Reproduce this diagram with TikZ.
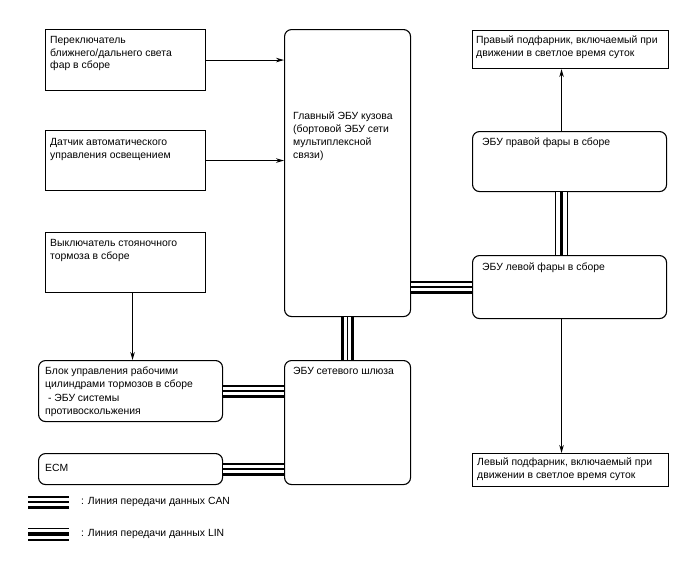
\documentclass[tikz,border=0pt]{standalone}
\usepackage{fontspec}
\setmainfont{Liberation Sans}
\usetikzlibrary{arrows.meta, calc}

\begin{document}
\begin{tikzpicture}[x=1pt, y=-1pt, >={Stealth[length=8pt, width=4.5pt]},
  font=\fontsize{10.4}{12.8}\selectfont,
  box/.style={draw, line width=1.1pt, anchor=north west, inner sep=0pt},
  rbox/.style={box, rounded corners=7pt},
  txt/.style={anchor=north west, align=left, inner sep=0pt},
  sig/.style={->, line width=1pt},
  can/.style={line width=13pt, postaction={draw=white, line width=7.6pt},
    postaction={draw=black, line width=1.4pt}},
  lin/.style={line width=13pt, postaction={draw=white, line width=10.2pt},
    postaction={draw=black, line width=3.8pt}}]
  \useasboundingbox (0,0) rectangle (688,560);

  % left column
  \node[box, minimum width=160pt, minimum height=61pt] (beam) at (45,29) {};
  \node[box, minimum width=160pt, minimum height=60pt] (light) at (45,130) {};
  \node[box, minimum width=160pt, minimum height=60pt] (park) at (45,232) {};
  \node[rbox, minimum width=184pt, minimum height=61pt] (brake) at (38,360) {};
  \node[rbox, minimum width=184pt, minimum height=31pt] (ecm) at (38,453) {};

  % middle column
  \node[rbox, minimum width=126pt, minimum height=287pt] (body) at (284,29) {};
  \node[rbox, minimum width=126pt, minimum height=124pt] (gate) at (284,360) {};

  % right column
  \node[box, minimum width=196pt, minimum height=38pt] (drlR) at (472,30) {};
  \node[rbox, minimum width=194pt, minimum height=60pt] (headR) at (472,131) {};
  \node[rbox, minimum width=194pt, minimum height=63pt] (headL) at (472,255) {};
  \node[box, minimum width=196pt, minimum height=33pt] (drlL) at (472,453) {};

  % texts
  \node[txt] (beamT) at ([shift={(5pt,-7pt)}]beam.north west)
    {Переключатель\\ближнего/дальнего света\\фар в сборе};
  \node[txt] (lightT) at ([shift={(5pt,-8pt)}]light.north west)
    {Датчик автоматического\\управления освещением};
  \node[txt] (parkT) at ([shift={(5pt,-7pt)}]park.north west)
    {Выключатель стояночного\\тормоза в сборе};
  \node[txt] (brakeT) at ([shift={(7pt,-7pt)}]brake.north west)
    {Блок управления рабочими\\цилиндрами тормозов в сборе\\[1pt]\ - ЭБУ системы\\противоскольжения};
  \node[txt] (ecmT) at ([shift={(7pt,-11pt)}]ecm.north west) {ECM};
  \node[txt] (bodyT) at ([shift={(9pt,-83pt)}]body.north west)
    {Главный ЭБУ кузова\\(бортовой ЭБУ сети\\мультиплексной\\связи)};
  \node[txt] (gateT) at ([shift={(9pt,-7pt)}]gate.north west) {ЭБУ сетевого шлюза};
  \node[txt] (drlRT) at ([shift={(4pt,-6pt)}]drlR.north west)
    {Правый подфарник, включаемый при\\движении в светлое время суток};
  \node[txt] (headRT) at ([shift={(10pt,-7pt)}]headR.north west) {ЭБУ правой фары в сборе};
  \node[txt] (headLT) at ([shift={(10pt,-8pt)}]headL.north west) {ЭБУ левой фары в сборе};
  \node[txt] (drlLT) at ([shift={(5pt,-5pt)}]drlL.north west)
    {Левый подфарник, включаемый при\\движении в светлое время суток};

  % signal lines
  \draw[sig] (beam.east) -- (beam.east -| body.west);
  \draw[sig] (light.east) -- (light.east -| body.west);
  \draw[sig] ([xshift=7pt]park.south) -- ([xshift=7pt]park.south |- brake.north);
  \draw[sig] ([xshift=-8pt]headR.north) -- ([xshift=-8pt]headR.north |- drlR.south);
  \draw[sig] ([xshift=-8pt]headL.south) -- ([xshift=-8pt]headL.south |- drlL.north);

  % bus lines
  \draw[can] (body.south) -- (gate.north);
  \draw[can] (headL.west -| body.east) -- (headL.west);
  \draw[can] (brake.east) -- (brake.east -| gate.west);
  \draw[can] (ecm.east) -- (ecm.east -| gate.west);
  \draw[lin] ([xshift=-8pt]headR.south) -- ([xshift=-8pt]headR.south |- headL.north);

  % legend
  \coordinate (canA) at (28,502);
  \coordinate (canB) at (69,502);
  \coordinate (linA) at (28,534);
  \coordinate (linB) at (69,534);
  \draw[can] (canA) -- (canB);
  \draw[lin] (linA) -- (linB);
  \node[anchor=west, inner sep=0pt] (canT) at ([xshift=12pt]canB) {: Линия передачи данных CAN};
  \node[anchor=west, inner sep=0pt] (linT) at ([xshift=12pt]linB) {: Линия передачи данных LIN};
\end{tikzpicture}
\end{document}
